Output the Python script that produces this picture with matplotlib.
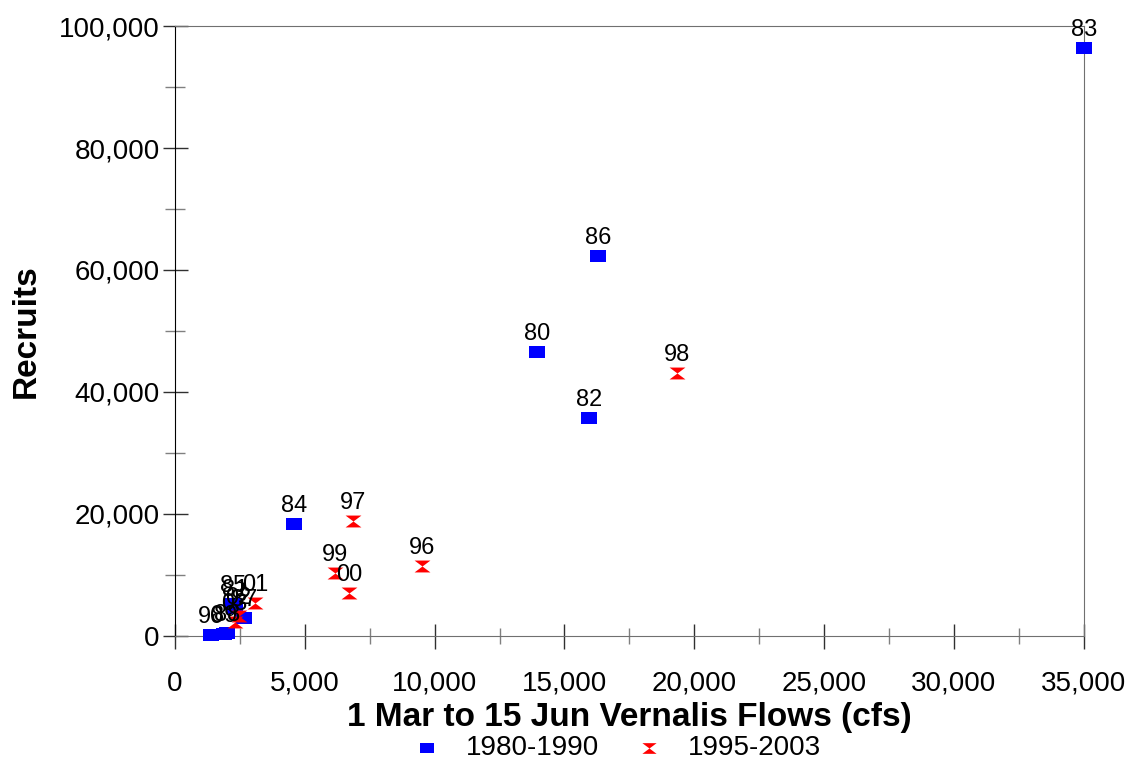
import numpy as np
import matplotlib.pyplot as plt
from matplotlib.path import Path
from matplotlib.ticker import MultipleLocator, FuncFormatter

plt.rcParams['font.family'] = ['Liberation Sans', 'DejaVu Sans']

# 1980-1990 brood years
early_years = ["80", "81", "82", "83", "84", "85", "86", "87", "88", "89", "90"]
early_flow = [13940, 2300, 15940, 35000, 4580, 2250, 16290, 2650, 2000, 1900, 1400]
early_recruits = [46500, 4600, 35700, 96400, 18400, 5300, 62300, 2900, 500, 300, 200]

# 1995-2003 brood years
late_years = ["96", "97", "98", "99", "00", "01", "02", "03"]
late_flow = [9510, 6850, 19330, 6160, 6700, 3080, 2450, 2300]
late_recruits = [11500, 18800, 43100, 10300, 7000, 5400, 3200, 2200]

# marker shapes
square = Path([(-0.7, -0.52), (0.7, -0.52), (0.7, 0.52), (-0.7, 0.52), (-0.7, -0.52)],
              [Path.MOVETO, Path.LINETO, Path.LINETO, Path.LINETO, Path.CLOSEPOLY])
hourglass = Path([(-1, 0.75), (1, 0.75), (0, 0), (1, -0.75), (-1, -0.75), (0, 0), (-1, 0.75)],
                 [Path.MOVETO, Path.LINETO, Path.LINETO, Path.LINETO, Path.LINETO, Path.LINETO, Path.CLOSEPOLY])

fig = plt.figure(figsize=(11.36, 7.67), dpi=100)
ax = fig.add_axes([0.154, 0.171, 0.8, 0.795])

ax.scatter(early_flow, early_recruits, marker=square, s=140, color='#0000ff',
           linewidths=0, label='1980-1990', zorder=3, clip_on=False)
ax.scatter(late_flow, late_recruits, marker=hourglass, s=130, color='#ff0000',
           linewidths=0, label='1995-2003', zorder=3, clip_on=False)

for lab, x, y in zip(early_years, early_flow, early_recruits):
    ax.annotate(lab, (x, y), xytext=(0, 5), textcoords='offset points',
                ha='center', va='bottom', fontsize=17)
for lab, x, y in zip(late_years, late_flow, late_recruits):
    ax.annotate(lab, (x, y), xytext=(0, 5), textcoords='offset points',
                ha='center', va='bottom', fontsize=17)

ax.set_xlim(0, 35000)
ax.set_ylim(0, 100000)
ax.xaxis.set_major_locator(MultipleLocator(5000))
ax.xaxis.set_minor_locator(MultipleLocator(2500))
ax.yaxis.set_major_locator(MultipleLocator(20000))
ax.yaxis.set_minor_locator(MultipleLocator(10000))
fmt = FuncFormatter(lambda v, p: f"{int(v):,}")
ax.xaxis.set_major_formatter(fmt)
ax.yaxis.set_major_formatter(fmt)

ax.tick_params(which='both', direction='inout', labelsize=20, width=1)
ax.tick_params(which='major', length=18, color='#303030')
ax.tick_params(which='minor', length=14, color='#808080')
ax.tick_params(axis='x', which='minor', length=12)
ax.tick_params(axis='x', pad=16)
ax.tick_params(axis='y', pad=2)

ax.spines['left'].set_color('black')
for s in ['top', 'right', 'bottom']:
    ax.spines[s].set_color('#707070')

ax.set_xlabel('1 Mar to 15 Jun Vernalis Flows (cfs)', fontsize=24, fontweight='bold', labelpad=4)
ax.set_ylabel('Recruits', fontsize=24, fontweight='bold', labelpad=12)

fig.legend(loc='lower center', bbox_to_anchor=(0.543, -0.025), ncol=2, frameon=False,
           fontsize=20, handlelength=1.0, handletextpad=0.9, columnspacing=1.3,
           markerscale=0.9)

fig.savefig('out.png', dpi=100)
